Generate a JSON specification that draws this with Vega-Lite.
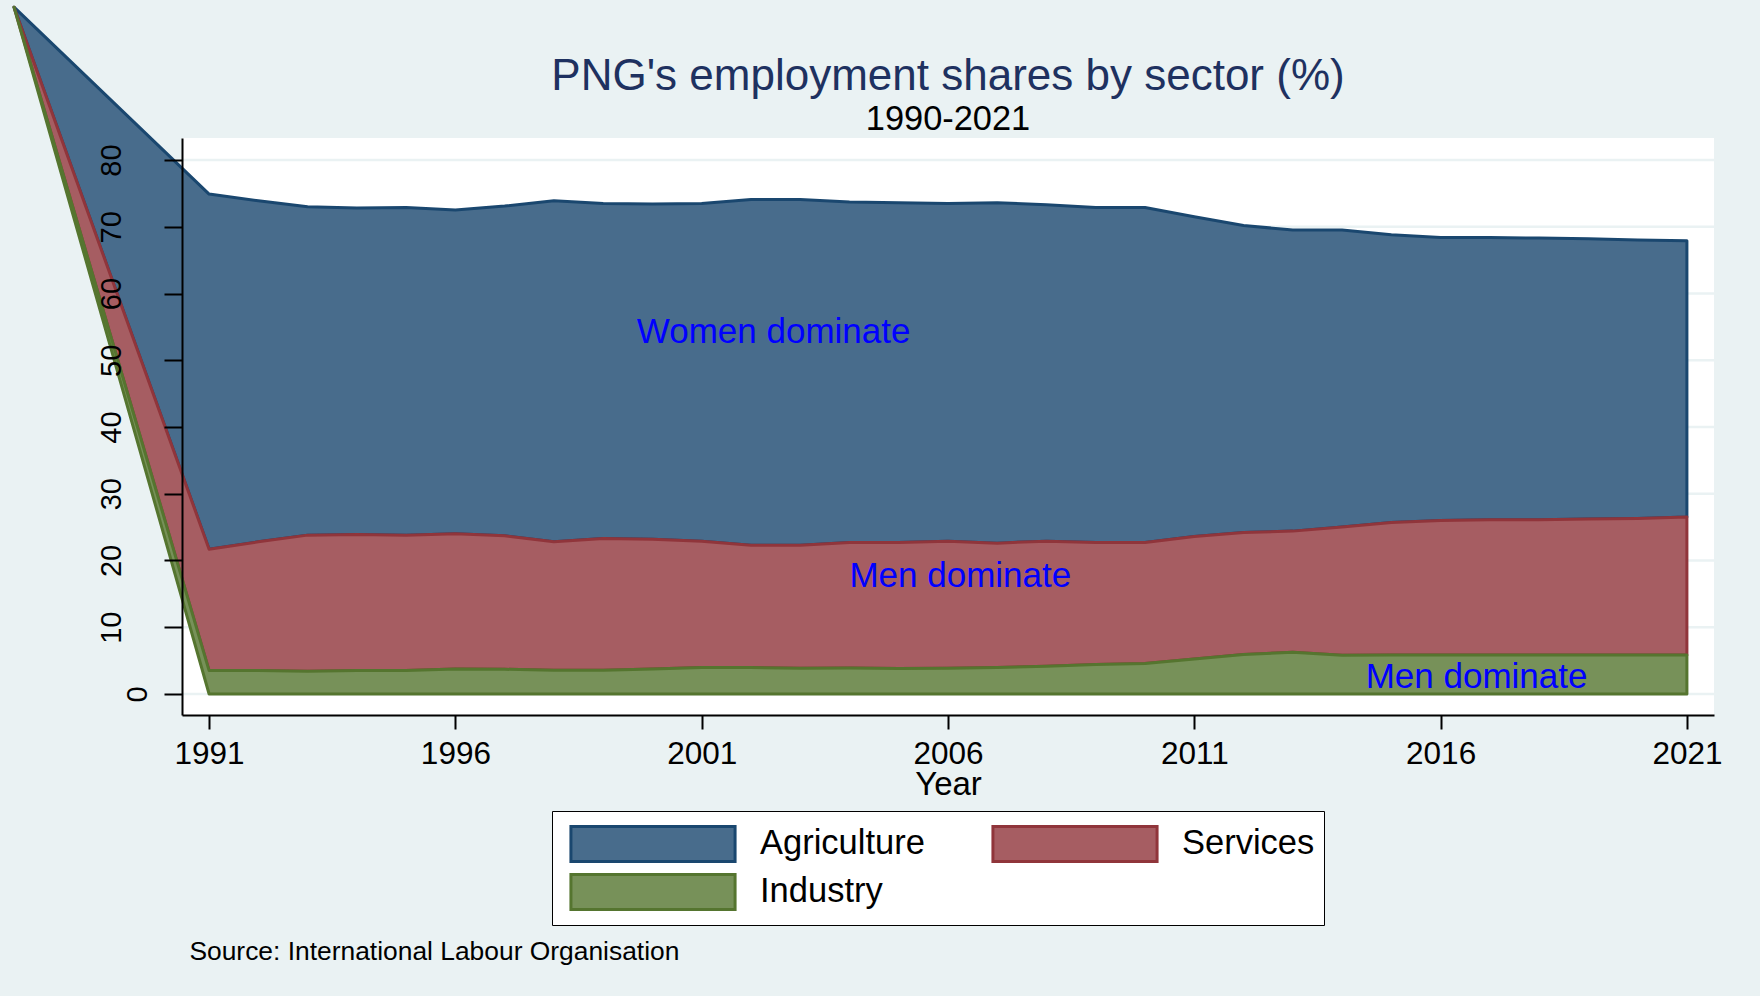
{
  "$schema": "https://vega.github.io/schema/vega-lite/v6.json",
  "autosize": {"type": "none"},
  "padding": {"left": 182, "top": 138, "right": 46, "bottom": 281},
  "width": 1532,
  "height": 577,
  "background": "#EAF2F3",
  "title": {
    "text": "PNG's employment shares by sector (%)",
    "subtitle": "1990-2021",
    "font": "Liberation Sans",
    "fontSize": 44,
    "fontWeight": "normal",
    "color": "#1E3160",
    "subtitleFont": "Liberation Sans",
    "subtitleFontSize": 34.4,
    "subtitleColor": "black",
    "subtitlePadding": 4,
    "anchor": "middle",
    "offset": -131
  },
  "datasets": {
    "grid": [{"g": 0}, {"g": 10}, {"g": 20}, {"g": 30}, {"g": 40}, {"g": 50}, {"g": 60}, {"g": 70}, {"g": 80}],
    "shares": [
      {"year": 1987.04, "sector": "Agriculture", "lo": 102.9, "hi": 102.9},
      {"year": 1991, "sector": "Agriculture", "lo": 21.7, "hi": 74.9},
      {"year": 1992, "sector": "Agriculture", "lo": 22.8, "hi": 73.9},
      {"year": 1993, "sector": "Agriculture", "lo": 23.8, "hi": 73.0},
      {"year": 1994, "sector": "Agriculture", "lo": 23.9, "hi": 72.8},
      {"year": 1995, "sector": "Agriculture", "lo": 23.8, "hi": 72.9},
      {"year": 1996, "sector": "Agriculture", "lo": 24.0, "hi": 72.5},
      {"year": 1997, "sector": "Agriculture", "lo": 23.7, "hi": 73.1},
      {"year": 1998, "sector": "Agriculture", "lo": 22.8, "hi": 73.9},
      {"year": 1999, "sector": "Agriculture", "lo": 23.3, "hi": 73.5},
      {"year": 2000, "sector": "Agriculture", "lo": 23.2, "hi": 73.4},
      {"year": 2001, "sector": "Agriculture", "lo": 22.9, "hi": 73.5},
      {"year": 2002, "sector": "Agriculture", "lo": 22.3, "hi": 74.1},
      {"year": 2003, "sector": "Agriculture", "lo": 22.3, "hi": 74.1},
      {"year": 2004, "sector": "Agriculture", "lo": 22.7, "hi": 73.7},
      {"year": 2005, "sector": "Agriculture", "lo": 22.7, "hi": 73.6},
      {"year": 2006, "sector": "Agriculture", "lo": 22.9, "hi": 73.5},
      {"year": 2007, "sector": "Agriculture", "lo": 22.6, "hi": 73.6},
      {"year": 2008, "sector": "Agriculture", "lo": 22.9, "hi": 73.3},
      {"year": 2009, "sector": "Agriculture", "lo": 22.7, "hi": 72.9},
      {"year": 2010, "sector": "Agriculture", "lo": 22.7, "hi": 72.9},
      {"year": 2011, "sector": "Agriculture", "lo": 23.6, "hi": 71.5},
      {"year": 2012, "sector": "Agriculture", "lo": 24.2, "hi": 70.2},
      {"year": 2013, "sector": "Agriculture", "lo": 24.4, "hi": 69.5},
      {"year": 2014, "sector": "Agriculture", "lo": 25.0, "hi": 69.5},
      {"year": 2015, "sector": "Agriculture", "lo": 25.7, "hi": 68.8},
      {"year": 2016, "sector": "Agriculture", "lo": 26.0, "hi": 68.4},
      {"year": 2017, "sector": "Agriculture", "lo": 26.1, "hi": 68.4},
      {"year": 2018, "sector": "Agriculture", "lo": 26.1, "hi": 68.3},
      {"year": 2019, "sector": "Agriculture", "lo": 26.2, "hi": 68.2},
      {"year": 2020, "sector": "Agriculture", "lo": 26.3, "hi": 68.0},
      {"year": 2021, "sector": "Agriculture", "lo": 26.5, "hi": 67.9},
      {"year": 1987.04, "sector": "Services", "lo": 102.9, "hi": 102.9},
      {"year": 1991, "sector": "Services", "lo": 3.5, "hi": 21.7},
      {"year": 1992, "sector": "Services", "lo": 3.5, "hi": 22.8},
      {"year": 1993, "sector": "Services", "lo": 3.4, "hi": 23.8},
      {"year": 1994, "sector": "Services", "lo": 3.5, "hi": 23.9},
      {"year": 1995, "sector": "Services", "lo": 3.5, "hi": 23.8},
      {"year": 1996, "sector": "Services", "lo": 3.75, "hi": 24.0},
      {"year": 1997, "sector": "Services", "lo": 3.7, "hi": 23.7},
      {"year": 1998, "sector": "Services", "lo": 3.55, "hi": 22.8},
      {"year": 1999, "sector": "Services", "lo": 3.55, "hi": 23.3},
      {"year": 2000, "sector": "Services", "lo": 3.75, "hi": 23.2},
      {"year": 2001, "sector": "Services", "lo": 3.95, "hi": 22.9},
      {"year": 2002, "sector": "Services", "lo": 3.95, "hi": 22.3},
      {"year": 2003, "sector": "Services", "lo": 3.85, "hi": 22.3},
      {"year": 2004, "sector": "Services", "lo": 3.9, "hi": 22.7},
      {"year": 2005, "sector": "Services", "lo": 3.8, "hi": 22.7},
      {"year": 2006, "sector": "Services", "lo": 3.85, "hi": 22.9},
      {"year": 2007, "sector": "Services", "lo": 3.95, "hi": 22.6},
      {"year": 2008, "sector": "Services", "lo": 4.15, "hi": 22.9},
      {"year": 2009, "sector": "Services", "lo": 4.4, "hi": 22.7},
      {"year": 2010, "sector": "Services", "lo": 4.55, "hi": 22.7},
      {"year": 2011, "sector": "Services", "lo": 5.25, "hi": 23.6},
      {"year": 2012, "sector": "Services", "lo": 5.9, "hi": 24.2},
      {"year": 2013, "sector": "Services", "lo": 6.25, "hi": 24.4},
      {"year": 2014, "sector": "Services", "lo": 5.8, "hi": 25.0},
      {"year": 2015, "sector": "Services", "lo": 5.85, "hi": 25.7},
      {"year": 2016, "sector": "Services", "lo": 5.85, "hi": 26.0},
      {"year": 2017, "sector": "Services", "lo": 5.85, "hi": 26.1},
      {"year": 2018, "sector": "Services", "lo": 5.85, "hi": 26.1},
      {"year": 2019, "sector": "Services", "lo": 5.85, "hi": 26.2},
      {"year": 2020, "sector": "Services", "lo": 5.85, "hi": 26.3},
      {"year": 2021, "sector": "Services", "lo": 5.85, "hi": 26.5},
      {"year": 1987.04, "sector": "Industry", "lo": 102.9, "hi": 102.9},
      {"year": 1991, "sector": "Industry", "lo": 0, "hi": 3.5},
      {"year": 1992, "sector": "Industry", "lo": 0, "hi": 3.5},
      {"year": 1993, "sector": "Industry", "lo": 0, "hi": 3.4},
      {"year": 1994, "sector": "Industry", "lo": 0, "hi": 3.5},
      {"year": 1995, "sector": "Industry", "lo": 0, "hi": 3.5},
      {"year": 1996, "sector": "Industry", "lo": 0, "hi": 3.75},
      {"year": 1997, "sector": "Industry", "lo": 0, "hi": 3.7},
      {"year": 1998, "sector": "Industry", "lo": 0, "hi": 3.55},
      {"year": 1999, "sector": "Industry", "lo": 0, "hi": 3.55},
      {"year": 2000, "sector": "Industry", "lo": 0, "hi": 3.75},
      {"year": 2001, "sector": "Industry", "lo": 0, "hi": 3.95},
      {"year": 2002, "sector": "Industry", "lo": 0, "hi": 3.95},
      {"year": 2003, "sector": "Industry", "lo": 0, "hi": 3.85},
      {"year": 2004, "sector": "Industry", "lo": 0, "hi": 3.9},
      {"year": 2005, "sector": "Industry", "lo": 0, "hi": 3.8},
      {"year": 2006, "sector": "Industry", "lo": 0, "hi": 3.85},
      {"year": 2007, "sector": "Industry", "lo": 0, "hi": 3.95},
      {"year": 2008, "sector": "Industry", "lo": 0, "hi": 4.15},
      {"year": 2009, "sector": "Industry", "lo": 0, "hi": 4.4},
      {"year": 2010, "sector": "Industry", "lo": 0, "hi": 4.55},
      {"year": 2011, "sector": "Industry", "lo": 0, "hi": 5.25},
      {"year": 2012, "sector": "Industry", "lo": 0, "hi": 5.9},
      {"year": 2013, "sector": "Industry", "lo": 0, "hi": 6.25},
      {"year": 2014, "sector": "Industry", "lo": 0, "hi": 5.8},
      {"year": 2015, "sector": "Industry", "lo": 0, "hi": 5.85},
      {"year": 2016, "sector": "Industry", "lo": 0, "hi": 5.85},
      {"year": 2017, "sector": "Industry", "lo": 0, "hi": 5.85},
      {"year": 2018, "sector": "Industry", "lo": 0, "hi": 5.85},
      {"year": 2019, "sector": "Industry", "lo": 0, "hi": 5.85},
      {"year": 2020, "sector": "Industry", "lo": 0, "hi": 5.85},
      {"year": 2021, "sector": "Industry", "lo": 0, "hi": 5.85}
    ],
    "notes": [
      {"year": 2002.46, "v": 54.2, "label": "Women dominate"},
      {"year": 2006.25, "v": 17.7, "label": "Men dominate"},
      {"year": 2016.73, "v": 2.6, "label": "Men dominate"}
    ],
    "source": [
      {"year": 1990.6, "v": -38.65, "label": "Source: International Labour Organisation"}
    ]
  },
  "layer": [
    {
      "data": {"name": "grid"},
      "mark": {"type": "rule", "color": "#EAF2F3", "strokeWidth": 2.5},
      "encoding": {
        "y": {"field": "g", "type": "quantitative"}
      }
    },
    {
      "data": {"name": "shares"},
      "mark": {"type": "area", "strokeWidth": 3, "fillOpacity": 1, "strokeJoin": "round"},
      "encoding": {
        "x": {
          "field": "year", "type": "quantitative",
          "scale": {"domain": [1990.45, 2021.55], "nice": false, "zero": false},
          "axis": {
            "title": "Year",
            "values": [1991, 1996, 2001, 2006, 2011, 2016, 2021],
            "format": "d",
            "grid": false,
            "labelFont": "Liberation Sans",
            "labelFontSize": 31.5,
            "labelColor": "black",
            "labelPadding": 9,
            "labelFlush": false,
            "tickSize": 14,
            "tickWidth": 2,
            "tickColor": "black",
            "domainColor": "black",
            "domainWidth": 2,
            "titleFont": "Liberation Sans",
            "titleFontSize": 33,
            "titleFontWeight": "normal",
            "titleColor": "black",
            "titlePadding": -1,
            "zindex": 1
          }
        },
        "y": {
          "field": "hi", "type": "quantitative",
          "scale": {"domain": [-3.15, 83.3], "nice": false, "zero": false},
          "axis": {
            "title": null,
            "values": [0, 10, 20, 30, 40, 50, 60, 70, 80],
            "grid": false,
            "labelFont": "Liberation Sans",
            "labelFontSize": 29,
            "labelColor": "black",
            "labelAngle": 270,
            "labelAlign": "center",
            "labelBaseline": "bottom",
            "labelPadding": {"condition": {"test": "datum.value == 0", "value": 12}, "value": 38},
            "tickSize": 18,
            "tickWidth": 2,
            "tickColor": "black",
            "domainColor": "black",
            "domainWidth": 2,
            "zindex": 1
          }
        },
        "y2": {"field": "lo"},
        "fill": {
          "field": "sector", "type": "nominal",
          "scale": {"domain": ["Agriculture", "Services", "Industry"], "range": ["#486C8C", "#A65D62", "#779159"]},
          "legend": {
            "title": null,
            "orient": "none",
            "legendX": 370,
            "legendY": 673,
            "columns": 2,
            "direction": "horizontal",
            "symbolType": "M-4.69,-1H4.69V1H-4.69Z",
            "symbolSize": 1225,
            "symbolStrokeWidth": 3,
            "symbolOffset": 73,
            "labelOffset": 88,
            "labelLimit": 500,
            "labelFont": "Liberation Sans",
            "labelFontSize": 34.5,
            "labelColor": "black",
            "clipHeight": 48,
            "columnPadding": 58,
            "rowPadding": 0,
            "padding": 9,
            "strokeColor": "black",
            "fillColor": "white"
          }
        },
        "stroke": {
          "field": "sector", "type": "nominal",
          "scale": {"domain": ["Agriculture", "Services", "Industry"], "range": ["#1A476F", "#90353B", "#55752F"]},
          "legend": null
        }
      }
    },
    {
      "data": {"name": "notes"},
      "mark": {"type": "text", "font": "Liberation Sans", "fontSize": 35, "color": "#0000FF", "align": "center", "baseline": "middle"},
      "encoding": {
        "x": {"field": "year", "type": "quantitative"},
        "y": {"field": "v", "type": "quantitative"},
        "text": {"field": "label"}
      }
    },
    {
      "data": {"name": "source"},
      "mark": {"type": "text", "font": "Liberation Sans", "fontSize": 26.4, "color": "black", "align": "left", "baseline": "middle"},
      "encoding": {
        "x": {"field": "year", "type": "quantitative"},
        "y": {"field": "v", "type": "quantitative"},
        "text": {"field": "label"}
      }
    }
  ],
  "config": {
    "view": {"fill": "white", "stroke": null}
  }
}
